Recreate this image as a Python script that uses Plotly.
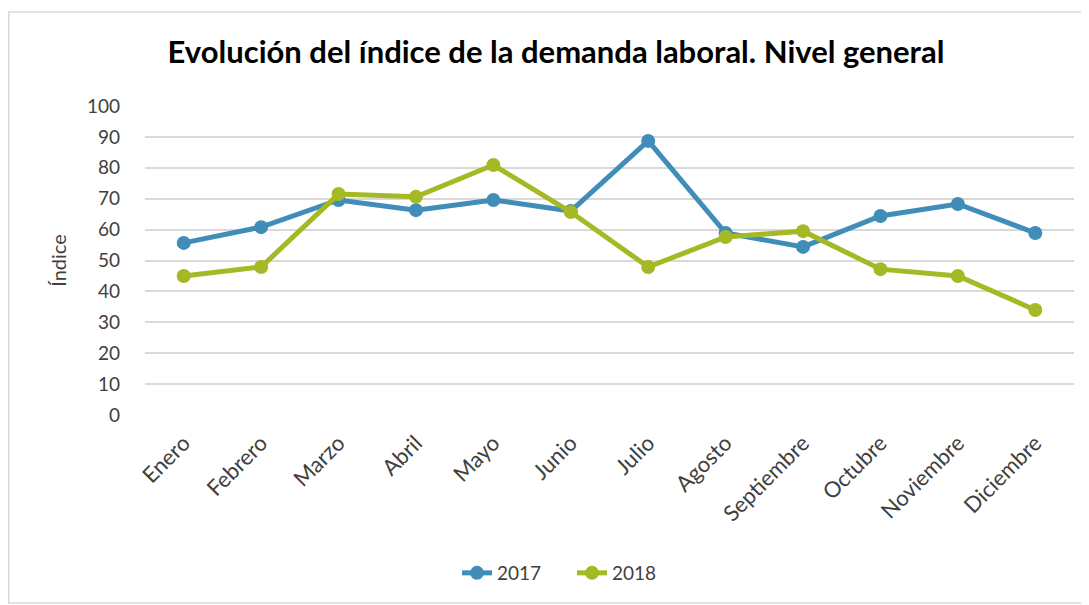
import plotly.graph_objects as go

meses = ['Enero', 'Febrero', 'Marzo', 'Abril', 'Mayo', 'Junio', 'Julio',
         'Agosto', 'Septiembre', 'Octubre', 'Noviembre', 'Diciembre']
valores_2017 = [55.7, 60.8, 69.6, 66.3, 69.6, 66.0, 88.7, 58.9, 54.4, 64.4, 68.3, 58.9]
valores_2018 = [45.0, 47.9, 71.5, 70.6, 80.9, 65.7, 47.9, 57.6, 59.5, 47.2, 45.0, 34.0]
ticks_y = [0, 10, 20, 30, 40, 50, 60, 70, 80, 90, 100]

azul = '#3F8DB8'
verde = '#A5B924'

fig = go.Figure()
fig.add_trace(go.Scatter(x=meses, y=valores_2017, name='2017', mode='lines+markers',
                         line=dict(color=azul, width=5), marker=dict(size=14, color=azul)))
fig.add_trace(go.Scatter(x=meses, y=valores_2018, name='2018', mode='lines+markers',
                         line=dict(color=verde, width=5), marker=dict(size=14, color=verde)))

# la página tiene 8 px de margen en el body
off = 8
W, H = 1089 - off, 605 - off
ml, mr, mt, mb = 145 - off, 15, 106 - off, 190
pw, ph = W - ml - mr, H - mt - mb

fig.update_layout(
    width=W, height=H,
    margin=dict(l=ml, r=mr, t=mt, b=mb, autoexpand=False),
    paper_bgcolor='white', plot_bgcolor='white',
    font=dict(family='Lato, Open Sans, sans-serif', size=19, color='#404040'),
    title=dict(text='<b>Evolución del índice de la demanda laboral. Nivel general</b>',
               x=(556 - off) / W, xanchor='center', y=1 - (52 - off) / H, yanchor='middle',
               font=dict(size=31, color='#000000')),
    xaxis=dict(range=[-0.5, 11.5], tickangle=-45, showgrid=False, showline=False, ticks='',
               automargin=False, ticklabelstandoff=10,
               tickfont=dict(size=22, color='#404040')),
    yaxis=dict(range=[0, 100], tickvals=ticks_y, showgrid=True, gridcolor='#D9D9D9',
               gridwidth=1.5, zeroline=False, ticks='', ticklabelstandoff=24, automargin=False,
               title=dict(text='Índice', font=dict(size=20, color='#404040'), standoff=14),
               tickfont=dict(size=19, color='#404040')),
    legend=dict(orientation='h', xref='container', x=(457 - off) / W, xanchor='left',
                yref='container', y=1 - (573 - off) / H, yanchor='middle',
                entrywidth=70, entrywidthmode='pixels',
                font=dict(size=19, color='#404040')),
    showlegend=True,
)

# marco del gráfico
fig.add_shape(type='rect', xref='paper', yref='paper',
              x0=(0.75 - ml) / pw, x1=(1086 - off - ml) / pw,
              y0=-(603 - off - mt - ph) / ph, y1=1 + (mt - (12 - off)) / ph,
              line=dict(color='#D9D9D9', width=1.5), layer='below')

fig.write_html('out.html')
